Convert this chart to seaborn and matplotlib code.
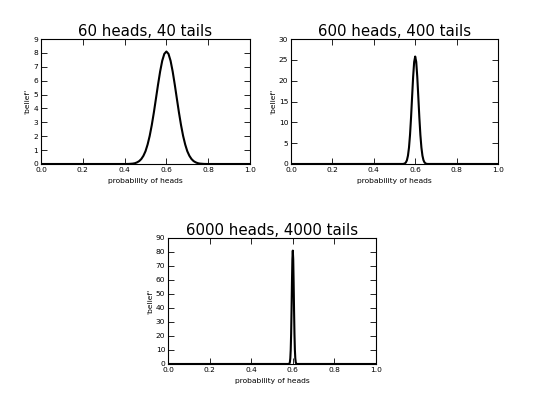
import pandas as pd
import seaborn as sns
import matplotlib.pyplot as plt

titles = ["60 heads, 40 tails", "600 heads, 400 tails", "6000 heads, 4000 tails"]
yMax = [9, 30, 90]
yStep = [1, 5, 10]

# curve points
x1 = [0.0, 0.40, 0.42, 0.44, 0.45, 0.46, 0.47, 0.48, 0.49, 0.50, 0.51, 0.52, 0.53,
      0.54, 0.55, 0.56, 0.57, 0.58, 0.59, 0.60, 0.61, 0.62, 0.63, 0.64, 0.65, 0.66,
      0.67, 0.68, 0.69, 0.70, 0.71, 0.72, 0.73, 0.74, 0.75, 0.76, 0.78, 0.80, 1.0]
y1 = [0.0, 0.0, 0.005, 0.03, 0.06, 0.12, 0.21, 0.36, 0.59, 0.92, 1.40, 2.02, 2.80,
      3.71, 4.71, 5.72, 6.66, 7.43, 7.93, 8.10, 7.93, 7.43, 6.66, 5.72, 4.71, 3.71,
      2.80, 2.02, 1.40, 0.92, 0.59, 0.36, 0.21, 0.12, 0.06, 0.03, 0.005, 0.0, 0.0]

x2 = [0.0, 0.54, 0.545, 0.55, 0.555, 0.56, 0.565, 0.57, 0.575, 0.58, 0.585, 0.59, 0.595,
      0.60, 0.605, 0.61, 0.615, 0.62, 0.625, 0.63, 0.635, 0.64, 0.645, 0.65, 0.655,
      0.66, 1.0]
y2 = [0.0, 0.01, 0.05, 0.14, 0.38, 0.91, 2.0, 3.94, 7.0, 11.2, 16.1, 20.9, 24.5,
      25.8, 24.5, 20.9, 16.1, 11.2, 7.0, 3.94, 2.0, 0.91, 0.38, 0.14, 0.05,
      0.01, 0.0]

x3 = [0.0, 0.580, 0.582, 0.584, 0.586, 0.588, 0.590, 0.592, 0.594, 0.596, 0.598,
      0.600, 0.602, 0.604, 0.606, 0.608, 0.610, 0.612, 0.614, 0.616, 0.618, 0.620, 1.0]
y3 = [0.0, 0.02, 0.1, 0.39, 1.38, 4.05, 10.1, 21.5, 38.5, 58.4, 74.9,
      81.0, 74.9, 58.4, 38.5, 21.5, 10.1, 4.05, 1.38, 0.39, 0.1, 0.02, 0.0]

curves = [(x1, y1), (x2, y2), (x3, y3)]

sns.set_theme(style="ticks", rc={
    "xtick.direction": "in", "ytick.direction": "in",
    "xtick.top": True, "ytick.right": True,
    "xtick.major.size": 4, "ytick.major.size": 4,
    "xtick.major.width": 0.6, "ytick.major.width": 0.6,
    "xtick.major.pad": 2, "ytick.major.pad": 2,
    "axes.edgecolor": "black", "axes.linewidth": 0.8,
    "xtick.color": "black", "ytick.color": "black",
    "xtick.labelsize": 5.4, "ytick.labelsize": 5.4,
    "axes.labelsize": 5.4, "axes.titlesize": 10.8,
    "text.color": "black", "axes.labelcolor": "black",
})
plt.rcParams['font.family'] = ['DejaVu Sans']

fig = plt.figure(figsize=(5.33, 3.94), dpi=100)
W, H = 533, 394
boxes = [(41, 39, 250, 164), (291, 39, 498, 164), (168, 238, 376, 364)]

for i, (l, t, r, b) in enumerate(boxes):
    ax = fig.add_axes([l / W, 1 - b / H, (r - l) / W, (b - t) / H])
    df = pd.DataFrame({"p": curves[i][0], "belief": curves[i][1]})
    sns.lineplot(data=df, x="p", y="belief", color="black", linewidth=1.5, ax=ax)
    ax.set_xlim(0, 1)
    ax.set_ylim(0, yMax[i])
    ax.set_xticks([0.0, 0.2, 0.4, 0.6, 0.8, 1.0])
    ax.set_xticklabels(["0.0", "0.2", "0.4", "0.6", "0.8", "1.0"])
    ax.set_yticks(list(range(0, yMax[i] + 1, yStep[i])))
    ax.set_title(titles[i], pad=1)
    ax.set_xlabel("probability of heads", labelpad=4)
    ax.set_ylabel("'belief'", labelpad=2)

plt.savefig("out.png", dpi=100)
